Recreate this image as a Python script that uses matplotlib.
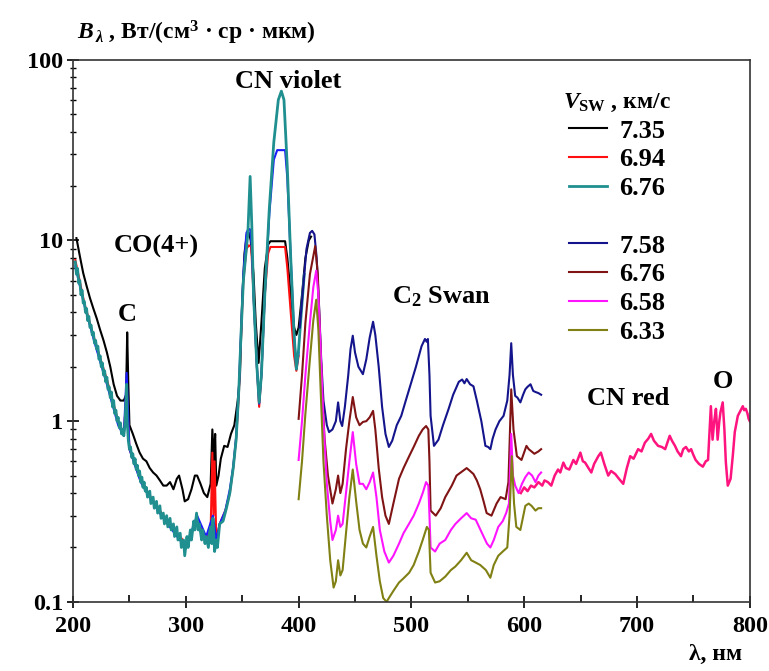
import matplotlib
matplotlib.use("Agg")
import matplotlib.pyplot as plt
from matplotlib.lines import Line2D
import numpy as np

plt.rcParams['font.family'] = ['Liberation Serif', 'DejaVu Serif']
plt.rcParams['font.weight'] = 'bold'
plt.rcParams['mathtext.fontset'] = 'custom'
plt.rcParams['mathtext.rm'] = 'Liberation Serif:bold'
plt.rcParams['mathtext.it'] = 'Liberation Serif:bold:italic'

# ---- Group 1 (200-410 nm) ----
wl_black = [203, 206, 209, 212, 215, 218, 221, 224, 227, 230, 233, 236, 239, 242, 245, 247, 248, 249,
            250, 253, 256, 259, 262, 265, 268, 271, 274, 277, 280, 283, 286, 289, 292, 294, 297, 299,
            302, 305, 308, 310, 313, 316, 319, 322, 323.5, 325, 326, 327, 329, 331, 334, 337, 340, 343,
            346, 348, 350, 352, 354, 356, 357.5, 360, 362, 364.5, 367, 370, 373, 375, 380, 385, 388,
            390, 393, 396, 398, 400, 403, 406, 409, 411]
bl_black = [10.3, 8.2, 6.6, 5.6, 4.8, 4.2, 3.7, 3.2, 2.8, 2.4, 2.0, 1.6, 1.38, 1.3, 1.3, 1.4, 3.1, 1.6,
            0.95, 0.85, 0.75, 0.67, 0.62, 0.6, 0.55, 0.52, 0.5, 0.47, 0.44, 0.44, 0.46, 0.42, 0.48, 0.5, 0.42, 0.36,
            0.37, 0.42, 0.5, 0.5, 0.45, 0.4, 0.38, 0.45, 0.9, 0.6, 0.85, 0.44, 0.5, 0.62, 0.73, 0.72, 0.85, 0.95,
            1.3, 1.8, 4.8, 8.5, 10.7, 11.0, 10.0, 6.5, 3.5, 2.1, 3.5, 7.0, 9.5, 9.9, 9.9, 9.9, 9.9,
            8.0, 5.0, 3.3, 3.0, 3.3, 5.0, 8.0, 10.0, 10.5]

wl_red = [202, 210, 220, 230, 240, 245, 247.5, 250, 260, 270, 280, 290, 300, 310, 318, 322, 323.5, 324.5,
          325.5, 327, 330, 335, 339, 342, 344.6, 347, 349, 351, 353.7, 356, 358, 360, 363, 365, 367, 370,
          373, 375, 388, 390, 393, 396, 398, 400]
bl_red = [7.8, 4.5, 2.7, 1.7, 1.0, 0.85, 1.5, 0.7, 0.47, 0.37, 0.3, 0.25, 0.21, 0.28, 0.22, 0.25, 0.67, 0.3,
          0.6, 0.22, 0.27, 0.32, 0.4, 0.55, 0.8, 1.4, 3.0, 6.0, 9.0, 9.4, 9.2, 5.0, 2.0, 1.2, 1.8, 5.0,
          8.5, 9.2, 9.2, 7.0, 4.0, 2.3, 1.9, 2.3]

wl_blue = [202, 210, 220, 230, 240, 245, 247.5, 250, 260, 270, 280, 290, 300, 310, 318, 324, 327, 330, 335,
           339, 342, 344.6, 347, 349, 351, 353.7, 355.5, 357, 358.5, 360, 363, 365, 367, 370, 374, 378, 381,
           388, 390, 393, 396, 398, 400]
bl_blue = [7.2, 4.4, 2.6, 1.6, 0.95, 0.83, 1.85, 0.7, 0.46, 0.36, 0.29, 0.24, 0.2, 0.3, 0.23, 0.3, 0.22, 0.27, 0.32,
           0.42, 0.56, 0.82, 1.5, 3.2, 6.5, 11.0, 11.6, 11.5, 9.0, 5.0, 2.0, 1.25, 1.8, 5.0, 14.0, 28.0, 31.6,
           31.6, 22.0, 8.0, 3.0, 1.95, 2.4]

wl_teal = [202, 203, 204, 205, 206, 207, 208, 209, 210, 211, 212, 213, 214, 215, 216, 217, 218, 219, 220,
           221, 222, 223, 224, 225, 226, 227, 228, 229, 230, 231, 232, 233, 234, 235, 236, 237, 238, 239,
           240, 241, 242, 243, 244, 245, 246, 247, 247.5, 248, 249, 250, 251, 252, 253, 254, 255, 256, 257,
           258, 259, 260, 261, 262, 263, 264, 265, 266, 268, 269, 271, 272, 274, 275, 277, 278, 280, 281,
           283, 284, 286, 287, 289, 290, 292, 293, 295, 296, 298, 299, 301, 302, 304, 305, 307, 308, 309.5,
           311, 312, 314, 315, 317, 318, 320, 321, 322, 323, 324, 325.5, 327, 328, 330, 333, 336, 339, 342,
           344.6, 347, 349, 351, 353.7, 355, 357, 358.5, 360, 363, 365, 367, 370, 374, 378, 382, 384.7, 387,
           390, 393, 396, 398, 400, 403, 405]
bl_teal = [7.6, 6.5, 7.0, 5.8, 6.0, 5.0, 5.3, 4.5, 4.6, 4.0, 4.2, 3.6, 3.8, 3.3, 3.4, 3.0, 3.1, 2.7, 2.8,
           2.5, 2.6, 2.2, 2.3, 2.0, 2.1, 1.8, 1.9, 1.65, 1.75, 1.5, 1.55, 1.35, 1.45, 1.2, 1.3, 1.1, 1.15, 1.0,
           1.05, 0.92, 0.98, 0.85, 0.9, 0.83, 0.95, 1.3, 1.6, 1.0, 0.78, 0.7, 0.72, 0.63, 0.66, 0.58, 0.62, 0.54, 0.57,
           0.5, 0.53, 0.46, 0.49, 0.43, 0.46, 0.41, 0.43, 0.38, 0.41, 0.35, 0.38, 0.33, 0.36, 0.31, 0.34, 0.29, 0.31, 0.27,
           0.3, 0.26, 0.29, 0.25, 0.27, 0.23, 0.26, 0.22, 0.24, 0.2, 0.22, 0.18, 0.23, 0.2, 0.25, 0.22, 0.28, 0.25, 0.31,
           0.25, 0.27, 0.22, 0.25, 0.21, 0.23, 0.2, 0.24, 0.26, 0.21, 0.29, 0.19, 0.22, 0.2, 0.27, 0.28, 0.33, 0.4, 0.55,
           0.79, 1.5, 3.1, 6.0, 9.0, 11.0, 22.6, 12.0, 5.0, 2.0, 1.27, 1.8, 5.0, 15.0, 35.0, 60.0, 67.0, 60.0,
           25.0, 8.0, 3.0, 1.94, 2.5, 4.5, 6.5]

# ---- Group 2 (400-615 nm) ----
wl_navy = [401, 404, 407, 410, 412, 414, 416, 418, 420, 422, 425, 427, 430, 433, 435, 437, 438.6, 441, 444,
           446, 448, 450, 453, 457, 460, 463, 466, 468, 471, 474, 477, 480, 483, 487, 491, 495, 500, 504,
           509, 512, 513.5, 514.6, 516, 517, 520, 524, 528, 533, 537, 542, 545, 547, 549, 552, 555, 558,
           559.6, 562, 565.6, 568, 570, 572, 574.6, 578, 581.7, 585, 587, 588.5, 590, 592, 594, 596.6, 599,
           601, 603, 605.6, 608, 610, 612.6, 615]
bl_navy = [3.3, 5.5, 9.0, 11.0, 11.3, 10.8, 8.0, 4.5, 2.2, 1.3, 0.95, 0.87, 0.9, 1.0, 1.27, 1.0, 0.94, 1.2, 1.8,
           2.5, 2.97, 2.4, 2.0, 1.82, 2.2, 2.9, 3.55, 3.0, 2.0, 1.2, 0.85, 0.72, 0.78, 0.95, 1.07, 1.3, 1.65, 2.0,
           2.6, 2.85, 2.75, 2.85, 1.8, 1.07, 0.73, 0.79, 0.95, 1.17, 1.4, 1.65, 1.7, 1.62, 1.71, 1.6, 1.56, 1.3,
           1.17, 1.0, 0.73, 0.72, 0.7, 0.8, 0.9, 1.0, 1.07, 1.3, 1.8, 2.7, 1.8, 1.38, 1.35, 1.27, 1.4,
           1.5, 1.55, 1.6, 1.47, 1.45, 1.43, 1.4]

wl_dred = [400, 403, 406, 410, 414.7, 417, 419, 421, 423, 426, 430, 433, 435, 437, 439, 442, 445, 448, 451,
           454, 457, 460, 463, 466, 468, 471, 474, 477, 480, 484, 489, 493, 498, 502, 506.6, 510, 513, 515,
           516, 517, 521.6, 526, 530, 535.8, 540, 543.7, 549, 552, 555, 558, 561, 564, 566.7, 571, 575.5,
           579, 583.5, 586, 588.5, 590.5, 593.5, 597.6, 602, 604, 606.5, 609, 612.6, 615]
bl_dred = [1.03, 1.8, 3.5, 6.5, 9.3, 6.5, 3.0, 1.4, 0.8, 0.5, 0.35, 0.42, 0.5, 0.4, 0.45, 0.7, 1.0, 1.36, 1.05,
           0.95, 0.99, 1.0, 1.05, 1.14, 0.9, 0.55, 0.38, 0.3, 0.27, 0.35, 0.48, 0.55, 0.64, 0.72, 0.83, 0.9, 0.94, 0.9,
           0.6, 0.32, 0.3, 0.33, 0.38, 0.44, 0.5, 0.52, 0.55, 0.53, 0.51, 0.47, 0.42, 0.36, 0.31, 0.3, 0.35,
           0.38, 0.37, 0.46, 1.5, 0.9, 0.64, 0.61, 0.73, 0.7, 0.68, 0.66, 0.68, 0.7]

wl_mag = [400, 403, 406, 410, 413, 415.6, 417.5, 419.5, 422, 425, 428, 430, 433, 435, 437, 439, 442, 445, 448,
          451, 454, 457, 460, 463, 466, 469, 472, 476, 480, 484, 489, 493, 497.8, 502, 506.6, 510, 513, 515,
          516, 517, 521, 525, 530, 535, 539, 544, 549, 553, 557, 560, 564, 567, 570, 573, 577, 581, 584,
          586.5, 588.5, 590, 592, 595, 598, 601, 604, 607, 610, 612.6, 615]
bl_mag = [0.61, 1.0, 1.8, 3.5, 5.5, 6.8, 5.0, 2.5, 1.0, 0.45, 0.28, 0.22, 0.25, 0.3, 0.26, 0.27, 0.4, 0.6, 0.87,
          0.58, 0.45, 0.45, 0.42, 0.46, 0.52, 0.38, 0.25, 0.19, 0.165, 0.18, 0.21, 0.24, 0.27, 0.3, 0.35, 0.4, 0.46, 0.44,
          0.3, 0.2, 0.19, 0.21, 0.22, 0.25, 0.27, 0.29, 0.31, 0.29, 0.285, 0.26, 0.23, 0.21, 0.2, 0.22, 0.26, 0.28, 0.31,
          0.35, 0.85, 0.5, 0.44, 0.4, 0.45, 0.49, 0.52, 0.5, 0.46, 0.5, 0.52]

wl_olive = [400, 403, 406, 410, 413, 415.6, 417.5, 419.5, 422, 425, 428, 431, 433, 435, 437, 439, 442, 445,
            448, 451, 454, 457, 460, 463, 466, 469, 472, 475, 478, 480, 484, 489, 493, 498, 502, 506.6, 510,
            513.7, 515.5, 517, 521, 525, 530, 535, 539, 544, 549, 553, 557, 561, 566, 570, 573, 577, 581,
            585, 587, 589, 591, 593, 596.6, 601, 604, 606.5, 610, 612.6, 615]
bl_olive = [0.37, 0.6, 1.1, 2.2, 3.6, 4.7, 3.2, 1.5, 0.6, 0.3, 0.17, 0.12, 0.13, 0.17, 0.14, 0.15, 0.24, 0.38,
            0.54, 0.36, 0.25, 0.21, 0.2, 0.23, 0.26, 0.18, 0.13, 0.105, 0.1, 0.105, 0.115, 0.128, 0.135, 0.145, 0.16, 0.19, 0.22,
            0.26, 0.25, 0.145, 0.128, 0.13, 0.138, 0.15, 0.157, 0.17, 0.187, 0.17, 0.165, 0.16, 0.15, 0.136, 0.16, 0.18, 0.19,
            0.2, 0.3, 0.64, 0.35, 0.26, 0.25, 0.34, 0.35, 0.34, 0.32, 0.33, 0.33]

# ---- CN red continuation (597-800 nm) ----
wl_pink = [597, 600, 603, 606, 609, 612.6, 616, 618, 621, 624, 627, 630, 632, 634.7, 637, 640, 643.6, 646,
           649.8, 652, 654, 657, 659.5, 662, 665.7, 668, 671, 674.5, 677, 680.7, 684, 687.8, 691, 694, 697,
           701, 704, 707, 710, 712.5, 715, 718.7, 722, 725, 729, 731, 733.7, 736, 739, 741, 743.4, 746, 748,
           750, 752, 755, 758.4, 761, 763, 765.5, 767, 768.5, 770, 771.5, 773, 774, 776, 777.5, 778.8, 780.5,
           783, 785, 786.7, 789.4, 792, 793.8, 795, 796.5, 798, 799, 800]
bl_pink = [0.4, 0.43, 0.41, 0.44, 0.43, 0.46, 0.44, 0.47, 0.46, 0.44, 0.5, 0.54, 0.52, 0.59, 0.55, 0.54, 0.61, 0.58,
           0.67, 0.6, 0.59, 0.55, 0.52, 0.58, 0.64, 0.67, 0.58, 0.5, 0.53, 0.51, 0.48, 0.45, 0.55, 0.64, 0.62,
           0.7, 0.68, 0.76, 0.8, 0.85, 0.78, 0.73, 0.72, 0.7, 0.83, 0.78, 0.73, 0.68, 0.64, 0.7, 0.72, 0.68, 0.7,
           0.65, 0.61, 0.58, 0.56, 0.6, 0.61, 1.21, 0.79, 1.0, 1.17, 0.79, 1.0, 1.12, 1.27, 0.9, 0.59, 0.44,
           0.48, 0.65, 0.87, 1.07, 1.15, 1.21, 1.15, 1.17, 1.1, 1.03, 1.0]

legend_labels = ['7.35', '6.94', '6.76', '7.58', '6.76', '6.58', '6.33']

fig = plt.figure(figsize=(7.69, 6.71), dpi=100)
ax = fig.add_axes([0.095, 0.103, 0.880, 0.808])

# group 1
h1, = ax.plot(wl_black, bl_black, color='black', lw=1.5)
h2, = ax.plot(wl_red, bl_red, color='#ff1010', lw=1.5)
ax.plot(wl_blue, bl_blue, color='#1a1aff', lw=1.5)
h3, = ax.plot(wl_teal, bl_teal, color='#1f8f8f', lw=2.0)
# group 2
h4, = ax.plot(wl_navy, bl_navy, color='#14148c', lw=1.5)
h5, = ax.plot(wl_dred, bl_dred, color='#801414', lw=1.5)
h6, = ax.plot(wl_mag, bl_mag, color='#ff14ff', lw=1.5)
h7, = ax.plot(wl_olive, bl_olive, color='#808014', lw=1.5)
ax.plot(wl_pink, bl_pink, color='#ff147f', lw=1.8)

ax.set_yscale('log')
ax.set_xlim(200, 800)
ax.set_ylim(0.1, 100)
ax.set_xticks([200, 300, 400, 500, 600, 700, 800])
ax.set_xticks(np.arange(250, 800, 100), minor=True)
ax.set_yticks([0.1, 1, 10, 100])
ax.set_yticklabels(['0.1', '1', '10', '100'])
ax.tick_params(axis='both', which='major', labelsize=17.5, direction='inout', length=8, width=1.2)
ax.tick_params(axis='x', which='major', pad=6)
ax.tick_params(axis='y', which='major', pad=3)
ax.tick_params(axis='x', which='minor', direction='in', length=5, width=1.2)
ax.tick_params(axis='y', which='minor', direction='inout', length=5, width=1.0, labelleft=False)
for lab in ax.get_xticklabels() + ax.get_yticklabels():
    lab.set_fontweight('bold')
for sp in ax.spines.values():
    sp.set_linewidth(1.2)
    sp.set_color('#333333')

# annotations
tkw = dict(fontsize=19, fontweight='bold', ha='center', va='center')
ax.text(274, 9.3, 'CO(4+)', **tkw)
ax.text(247.7, 3.9, 'C', **tkw)
ax.text(391, 76, 'CN violet', **tkw)
ax.text(527, 4.9, r'C$_2$ Swan', **tkw)
ax.text(692, 1.33, 'CN red', **tkw)
ax.text(776, 1.65, 'O', **tkw)

fig.text(0.1, 0.951, r'$B_{\,\lambda}$ , Вт/(см$^3$ · ср · мкм)', fontsize=17, fontweight='bold',
         ha='left', va='center')
fig.text(0.93, 0.024, 'λ, нм', fontsize=17, fontweight='bold', ha='center', va='center')

blank = Line2D([], [], color='none')
handles = [h1, h2, h3, blank, h4, h5, h6, h7]
labels = legend_labels[:3] + [''] + legend_labels[3:]
leg = ax.legend(handles, labels, loc='upper left', bbox_to_anchor=(0.697, 0.975), frameon=False,
                title=r'$V_{\rm SW}$ , км/с', fontsize=19, title_fontsize=17,
                handlelength=1.45, handletextpad=0.45, labelspacing=0.2, borderpad=0.2)
leg.get_title().set_fontweight('bold')
for t in leg.get_texts():
    t.set_fontweight('bold')

fig.savefig('out.png', dpi=100)
